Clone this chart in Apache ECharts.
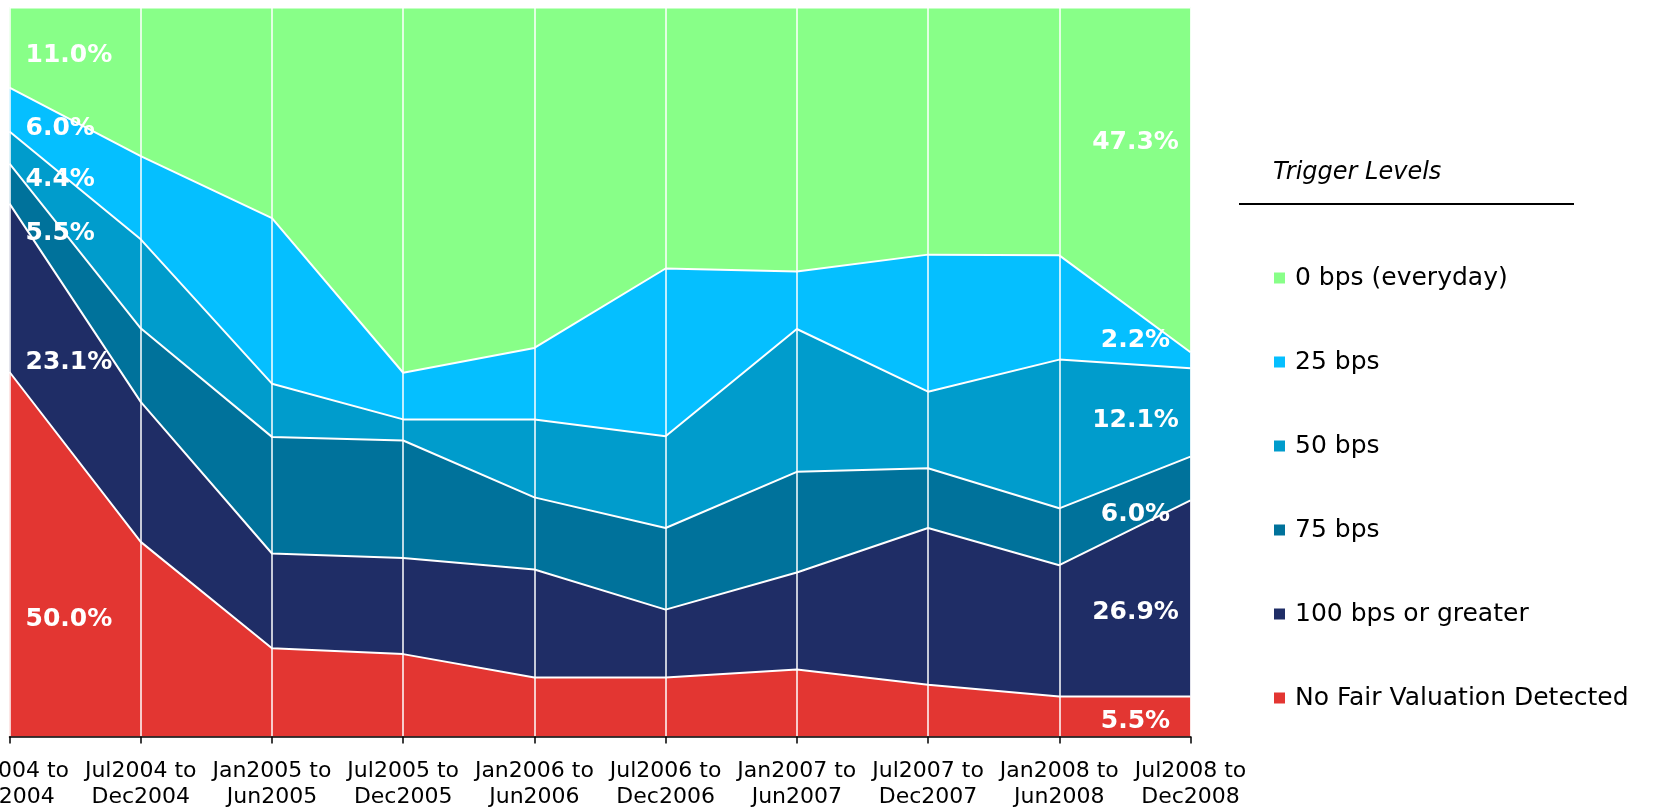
<!DOCTYPE html>
<html>
<head>
<meta charset="utf-8">
<title>Trigger Levels</title>
<script src="https://cdn.jsdelivr.net/npm/echarts@6/dist/echarts.min.js"></script>
<style>
  html, body { margin: 0; padding: 0; background: #fff; }
  #chart { width: 1656px; height: 807px; }
</style>
</head>
<body>
<div id="chart"></div>
<script>
// periods on the x axis
const categories = [
  'Jan2004 to\nJun2004', 'Jul2004 to\nDec2004', 'Jan2005 to\nJun2005', 'Jul2005 to\nDec2005',
  'Jan2006 to\nJun2006', 'Jul2006 to\nDec2006', 'Jan2007 to\nJun2007', 'Jul2007 to\nDec2007',
  'Jan2008 to\nJun2008', 'Jul2008 to\nDec2008'
];

// share of funds per trigger level (%), bottom to top of the stack
const noFairValuation = [50.0, 26.7, 12.1, 11.3, 8.1, 8.1, 9.2, 7.1, 5.5, 5.5];
const bps100 = [23.1, 19.2, 13.0, 13.2, 14.8, 9.3, 13.3, 21.5, 18.0, 26.9];
const bps75 = [5.5, 10.1, 16.0, 16.1, 9.9, 11.2, 13.8, 8.2, 7.8, 6.0];
const bps50 = [4.4, 12.2, 7.3, 2.9, 10.7, 12.6, 19.6, 10.5, 20.4, 12.1];
const bps25 = [6.0, 11.4, 22.7, 6.4, 9.8, 23.0, 7.9, 18.8, 14.3, 2.2];
const bps0 = [11.0, 20.4, 28.9, 50.1, 46.7, 35.8, 36.2, 33.9, 34.0, 47.3];

const legendOrder = ['0 bps (everyday)', '25 bps', '50 bps', '75 bps', '100 bps or greater', 'No Fair Valuation Detected'];

const FONT = '"DejaVu Sans", Verdana, sans-serif';

// stack order, bottom first; label offsets are [first point, last point]
const layers = [
  { name: 'No Fair Valuation Detected', data: noFairValuation, color: '#e33632', offs: [[16, 247], [-55, 25]] },
  { name: '100 bps or greater', data: bps100, color: '#1f2d66', offs: [[16, 159], [-55, 112]] },
  { name: '75 bps', data: bps75, color: '#00729b', offs: [[16, 70], [-55, 58]] },
  { name: '50 bps', data: bps50, color: '#009ccc', offs: [[16, 48], [-55, 52]] },
  { name: '25 bps', data: bps25, color: '#05bfff', offs: [[16, 41], [-55, -12]] },
  { name: '0 bps (everyday)', data: bps0, color: '#88ff88', offs: [[16, 48], [-55, 135]] }
];

const chart = echarts.init(document.getElementById('chart'));

const series = layers.map(l => ({
  name: l.name,
  type: 'line',
  stack: 'total',
  clip: false,
  symbol: 'circle',
  symbolSize: 0.1,
  itemStyle: { color: l.color },
  lineStyle: { color: '#fff', width: 2 },
  areaStyle: { color: l.color, opacity: 1 },
  emphasis: { disabled: true },
  data: l.data.map((v, i) => {
    const last = l.data.length - 1;
    if (i !== 0 && i !== last) return v;
    const o = i === 0 ? l.offs[0] : l.offs[1];
    return {
      value: v,
      label: {
        show: true,
        position: 'inside',
        align: i === 0 ? 'left' : 'center',
        verticalAlign: 'middle',
        offset: o,
        color: '#fff',
        fontFamily: FONT,
        fontWeight: 'bold',
        fontSize: 25,
        formatter: p => p.value.toFixed(1) + '%'
      }
    };
  })
}));

chart.setOption({
  animation: false,
  backgroundColor: '#fff',
  title: {
    text: 'Trigger Levels',
    left: 1268,
    top: 156,
    textStyle: { fontFamily: FONT, fontStyle: 'italic', fontWeight: 'normal', fontSize: 24, color: '#000' }
  },
  legend: {
    data: legendOrder,
    orient: 'vertical',
    left: 1274,
    top: 264,
    padding: 0,
    itemWidth: 11,
    itemHeight: 11,
    itemGap: 56,
    icon: 'rect',
    selectedMode: false,
    textStyle: { fontFamily: FONT, fontSize: 25, color: '#000', lineHeight: 28, padding: [0, 0, 0, 5] }
  },
  graphic: [{
    type: 'line',
    shape: { x1: 1239, y1: 204, x2: 1574, y2: 204 },
    style: { stroke: '#000', lineWidth: 2 }
  }],
  grid: { left: 9.5, top: 7.5, width: 1181, height: 729, outerBoundsMode: 'none', containLabel: false },
  xAxis: {
    type: 'category',
    data: categories,
    boundaryGap: false,
    z: 10,
    axisLine: { lineStyle: { color: '#000', width: 1.5 } },
    axisTick: { length: 7, lineStyle: { color: '#000', width: 1.5 } },
    axisLabel: {
      interval: 0,
      margin: 22,
      color: '#000',
      fontFamily: FONT,
      fontSize: 22,
      lineHeight: 26
    },
    splitLine: { show: true, lineStyle: { color: '#fff', width: 1.5 } }
  },
  yAxis: { type: 'value', min: 0, max: 100, show: false },
  series: series
});

window.addEventListener('resize', () => chart.resize());
</script>
</body>
</html>
